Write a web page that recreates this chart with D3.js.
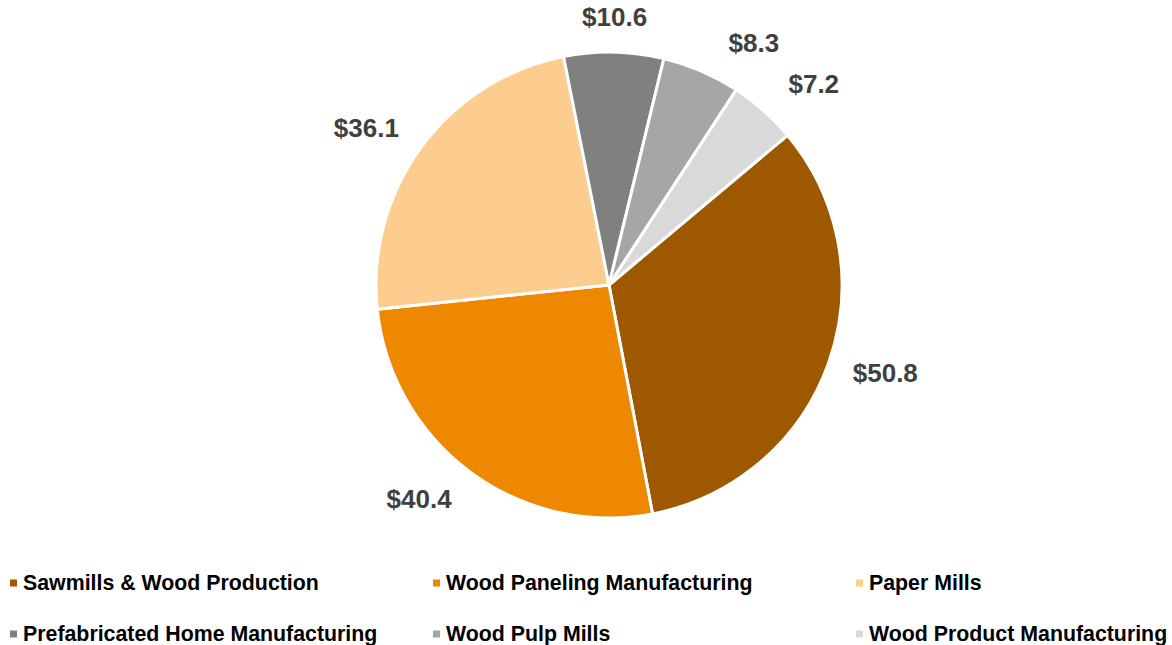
<!DOCTYPE html>
<html>
<head>
<meta charset="utf-8">
<script src="https://cdn.jsdelivr.net/npm/d3@7"></script>
<style>
  body { margin: 0; background: #fff; }
  svg { display: block; font-family: "Liberation Sans", Arial, sans-serif; }
</style>
</head>
<body>
<svg id="chart" width="1172" height="645"></svg>
<script>
  //---DATA
  var categories = ['Sawmills & Wood Production', 'Wood Paneling Manufacturing', 'Paper Mills',
    'Prefabricated Home Manufacturing', 'Wood Pulp Mills', 'Wood Product Manufacturing'];
  var values = [50.8, 40.4, 36.1, 10.6, 8.3, 7.2];
  var colors = ['#9e5800', '#ee8800', '#fdcd8f', '#808080', '#a6a6a6', '#d9d9d9'];

  //---SIZES
  var W = 1172, H = 645;
  var cx = 609, cy = 285, radius = 233;
  var first_angle = 50 * Math.PI / 180; //--excel first slice angle
  var lbl_gap = 24, lbl_hw = 31, lbl_hh = 11;
  //--bestfit nudges excel did on the labels (degrees)
  var lbl_nudge = {
    'Sawmills & Wood Production': -2,
    'Wood Paneling Manufacturing': 5,
    'Paper Mills': -3.5,
    'Wood Pulp Mills': 7.5,
    'Wood Product Manufacturing': 4
  };

  var svg = d3.select('#chart');

  var pie = d3.pie()
    .sort(null)
    .value(function(d) { return d.value; })
    .startAngle(first_angle)
    .endAngle(first_angle + 2 * Math.PI);

  var arc = d3.arc().innerRadius(0).outerRadius(radius);

  var data = categories.map(function(c, i) {
    return { name: c, value: values[i], color: colors[i] };
  });
  var arcs = pie(data);

  var pie_g = svg.append('g')
    .attr('transform', 'translate(' + cx + ',' + cy + ')');

  pie_g.selectAll('path')
    .data(arcs)
    .enter()
    .append('path')
    .attr('d', arc)
    .attr('fill', function(d) { return d.data.color; })
    .attr('stroke', '#fff')
    .attr('stroke-width', 3)
    .attr('stroke-linejoin', 'round');

  //---LABELS
  pie_g.selectAll('text.lbl')
    .data(arcs)
    .enter()
    .append('text')
    .attr('class', 'lbl')
    .attr('text-anchor', 'middle')
    .attr('dy', '0.35em')
    .attr('transform', function(d) {
      var a = (d.startAngle + d.endAngle) / 2 + (lbl_nudge[d.data.name] || 0) * Math.PI / 180;
      var s = Math.sin(a), c = Math.cos(a);
      var dist = radius + lbl_gap + Math.abs(s) * lbl_hw + Math.abs(c) * lbl_hh;
      return 'translate(' + (dist * s) + ',' + (-dist * c) + ')';
    })
    .style('font-size', '26px')
    .style('font-weight', 'bold')
    .style('fill', '#404040')
    .text(function(d) { return '$' + d3.format('.1f')(d.value); });

  //---LEGEND
  var col_x = d3.scalePoint().domain([0, 1, 2]).range([10, 856]);
  var row_y = d3.scalePoint().domain([0, 1]).range([583, 634]);

  var legend = svg.append('g').attr('class', 'legend');
  var item = legend.selectAll('g')
    .data(data)
    .enter()
    .append('g')
    .attr('transform', function(d, i) {
      return 'translate(' + col_x(i % 3) + ',' + row_y(Math.floor(i / 3)) + ')';
    });

  item.append('rect')
    .attr('x', 0)
    .attr('y', -3.5)
    .attr('width', 7)
    .attr('height', 7)
    .attr('fill', function(d) { return d.color; });

  item.append('text')
    .attr('x', 13)
    .attr('dy', '0.35em')
    .style('font-size', '21.33px')
    .style('font-weight', 'bold')
    .style('fill', '#000')
    .text(function(d) { return d.name; });
</script>
</body>
</html>
